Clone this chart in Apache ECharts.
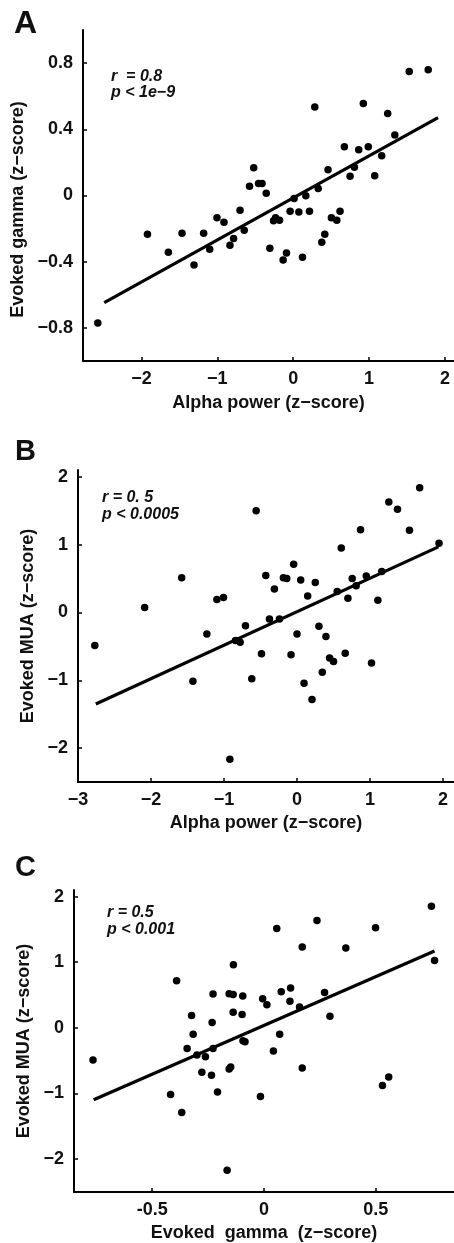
<!DOCTYPE html>
<html><head><meta charset="utf-8">
<script src="https://cdn.jsdelivr.net/npm/echarts@6/dist/echarts.min.js"></script>
<style>html,body{margin:0;padding:0;background:#fff}#c{width:454px;height:1243px}</style>
</head><body><div id="c"></div>
<script>
// Panel A: alpha power vs evoked gamma
const aAlpha = [1.53,1.78,0.285,0.925,1.246,1.34,0.675,0.864,0.99,1.167,0.807,0.75,1.075,0.46,0.33,0.167,0.013,-0.52,-0.575,-0.456,-0.41,-0.355,-0.70,-1.92,-1.645,-1.465,-1.307,-1.18,-1.10,-1.004,-0.912,-0.833,-0.785,-0.645,-0.307,-0.259,-0.232,-0.18,-0.132,-0.088,-0.04,0.075,0.123,0.215,0.377,0.417,0.504,0.575,0.618,-2.575];
const aGamma = [0.75,0.76,0.534,0.556,0.496,0.366,0.294,0.276,0.294,0.24,0.17,0.116,0.12,0.156,0.042,-0.002,-0.018,0.168,0.056,0.072,0.072,0.014,-0.089,-0.234,-0.343,-0.228,-0.42,-0.228,-0.325,-0.135,-0.161,-0.30,-0.26,-0.21,-0.318,-0.153,-0.135,-0.149,-0.39,-0.347,-0.095,-0.10,-0.373,-0.095,-0.282,-0.234,-0.135,-0.149,-0.095,-0.77];
const aFitX = [-2.49, 1.91];
const aFitY = [-0.647, 0.47];
// Panel B: alpha power vs evoked MUA
const bAlpha = [-1.58,-0.56,1.68,1.257,1.376,0.87,1.54,0.606,1.945,-0.046,-0.428,-0.187,-0.141,0.05,0.25,-0.31,0.756,0.948,1.16,0.81,0.55,0.146,-1.098,-1.007,0.697,1.107,-2.087,-2.77,-1.235,-0.378,-0.241,-0.706,-0.843,-0.779,0,0.30,0.396,-0.487,-0.082,0.446,0.50,0.66,1.02,0.346,-1.426,-0.62,0.096,0.205,-0.92];
const bMua = [0.51,1.50,1.84,1.63,1.52,1.22,1.21,0.95,1.02,0.71,0.546,0.51,0.50,0.478,0.44,0.346,0.50,0.537,0.605,0.395,0.307,0.244,0.19,0.22,0.21,0.18,0.073,-0.488,-0.317,-0.098,-0.098,-0.195,-0.415,-0.44,-0.317,-0.205,-0.356,-0.61,-0.624,-0.673,-0.722,-0.60,-0.746,-0.883,-1.015,-0.976,-1.044,-1.283,-2.166];
const bFitX = [-2.756, 1.936];
const bFitY = [-1.351, 0.966];
// Panel C: evoked gamma vs evoked MUA
const cGamma = [0.749,0.057,0.237,0.499,0.171,0.366,0.763,-0.137,-0.391,-0.228,-0.156,-0.138,-0.095,0.077,0.119,0.271,-0.006,0.013,0.116,0.159,-0.138,-0.098,-0.324,0.295,-0.232,-0.317,-0.344,-0.30,-0.262,-0.228,-0.094,-0.085,0.07,0.042,-0.278,-0.235,-0.156,-0.149,0.171,-0.208,-0.418,-0.016,-0.368,0.53,0.558,-0.765,-0.165];
const cMua = [1.853,1.515,1.636,1.525,1.232,1.217,1.025,0.96,0.717,0.515,0.52,0.51,0.485,0.55,0.606,0.54,0.444,0.354,0.404,0.318,0.237,0.202,0.187,0.177,0.08,-0.096,-0.313,-0.414,-0.44,-0.313,-0.197,-0.21,-0.096,-0.354,-0.677,-0.722,-0.626,-0.596,-0.611,-0.975,-1.015,-1.045,-1.288,-0.879,-0.747,-0.49,-2.167];
const cFitX = [-0.762, 0.763];
const cFitY = [-1.096, 1.172];
// Tick values
const aXTicks = [-2,-1,0,1,2];
const aYTicks = [-0.8,-0.4,0,0.4,0.8];
const bXTicks = [-3,-2,-1,0,1,2];
const bYTicks = [-2,-1,0,1,2];
const cXTicks = [-0.5,0,0.5];
const cYTicks = [-2,-1,0,1,2];
// Text
const panelLabels = ['A','B','C'];
const statsA = ['r  = 0.8','p < 1e\u22129'];
const statsB = ['r = 0. 5','p < 0.0005'];
const statsC = ['r = 0.5','p < 0.001'];
const xTitles = ['Alpha power (z\u2212score)','Alpha power (z\u2212score)','Evoked  gamma  (z\u2212score)'];
const yTitles = ['Evoked gamma (z\u2212score)','Evoked MUA (z\u2212score)','Evoked MUA (z\u2212score)'];

const FONT = '"Liberation Sans", Arial, sans-serif';
const INK = '#000';
const zip = (xs, ys) => xs.map((x, i) => [x, ys[i]]);
const fmt = (minus, dec) => v => {
  if (Math.abs(v) < 1e-9) return '0';
  let s = dec ? v.toFixed(dec) : String(Math.round(v));
  return s.replace('-', minus);
};

function xAxis(gi, min, max, ticks, name, minus, dec, gap) {
  return {
    type: 'value', gridIndex: gi, min, max,
    splitLine: {show: false},
    axisLine: {show: true, onZero: false, lineStyle: {color: INK, width: 2}},
    axisTick: {show: true, inside: true, length: 4, customValues: ticks, lineStyle: {color: INK, width: 1.5}},
    axisLabel: {customValues: ticks, formatter: fmt(minus, dec), color: '#111', fontFamily: FONT, fontWeight: 'bold', fontSize: 18, margin: 9},
    name, nameLocation: 'middle', nameGap: gap,
    nameTextStyle: {color: '#111', fontFamily: FONT, fontWeight: 'bold', fontSize: 18}
  };
}
function yAxis(gi, min, max, ticks, name, minus, dec, gap, pad) {
  return {
    type: 'value', gridIndex: gi, min, max,
    splitLine: {show: false},
    axisLine: {show: true, onZero: false, lineStyle: {color: INK, width: 2}},
    axisTick: {show: true, inside: true, length: 4, customValues: ticks, lineStyle: {color: INK, width: 1.5}},
    axisLabel: {customValues: ticks, formatter: fmt(minus, dec), color: '#111', fontFamily: FONT, fontWeight: 'bold', fontSize: 18, margin: 10},
    name, nameLocation: 'middle', nameGap: gap, nameRotate: 90,
    nameTextStyle: {color: '#111', fontFamily: FONT, fontWeight: 'bold', fontSize: 18, padding: pad}
  };
}
function scatter(i, xs, ys) {
  return {type: 'scatter', xAxisIndex: i, yAxisIndex: i, data: zip(xs, ys), symbolSize: 7.5, itemStyle: {color: INK, opacity: 1}, z: 3, silent: true};
}
function fit(i, xs, ys) {
  return {type: 'line', xAxisIndex: i, yAxisIndex: i, data: zip(xs, ys), showSymbol: false, lineStyle: {color: INK, width: 3.2}, z: 2, silent: true};
}
function txt(x, y, s, size, italic) {
  return {type: 'text', left: x, top: y, style: {text: s, fill: '#111', font: (italic ? 'italic ' : '') + 'bold ' + size + 'px ' + FONT}};
}

const option = {
  animation: false,
  backgroundColor: '#fff',
  grid: [
    {left: 83, width: 371, top: 30, height: 331},
    {left: 78, width: 376, top: 470, height: 312},
    {left: 74, width: 380, top: 890, height: 303}
  ],
  xAxis: [
    xAxis(0, -2.77, 2.12, aXTicks, xTitles[0], '\u2212', 0, 33),
    xAxis(1, -3, 2.15, bXTicks, xTitles[1], '\u2212', 0, 32),
    xAxis(2, -0.85, 0.85, cXTicks, xTitles[2], '-', 1, 32)
  ],
  yAxis: [
    yAxis(0, -1, 1, aYTicks, yTitles[0], '\u2212', 1, 52, [0, 28, 0, 0]),
    yAxis(1, -2.5, 2.1, bYTicks, yTitles[1], '\u2212', 0, 32, 0),
    yAxis(2, -2.5, 2.1, cYTicks, yTitles[2], '\u2212', 0, 35, 0)
  ],
  series: [
    fit(0, aFitX, aFitY), scatter(0, aAlpha, aGamma),
    fit(1, bFitX, bFitY), scatter(1, bAlpha, bMua),
    fit(2, cFitX, cFitY), scatter(2, cGamma, cMua)
  ],
  graphic: [
    txt(14, 8, panelLabels[0], 32, false),
    txt(15, 437, panelLabels[1], 29, false),
    txt(15, 853, panelLabels[2], 29, false),
    txt(111, 69, statsA[0], 16, true),
    txt(111, 85, statsA[1], 16, true),
    txt(102, 490, statsB[0], 16, true),
    txt(102, 507, statsB[1], 16, true),
    txt(107, 905, statsC[0], 16, true),
    txt(107, 922, statsC[1], 16, true)
  ]
};
const chart = echarts.init(document.getElementById('c'), null, {renderer: 'canvas'});
chart.setOption(option);
</script></body></html>
